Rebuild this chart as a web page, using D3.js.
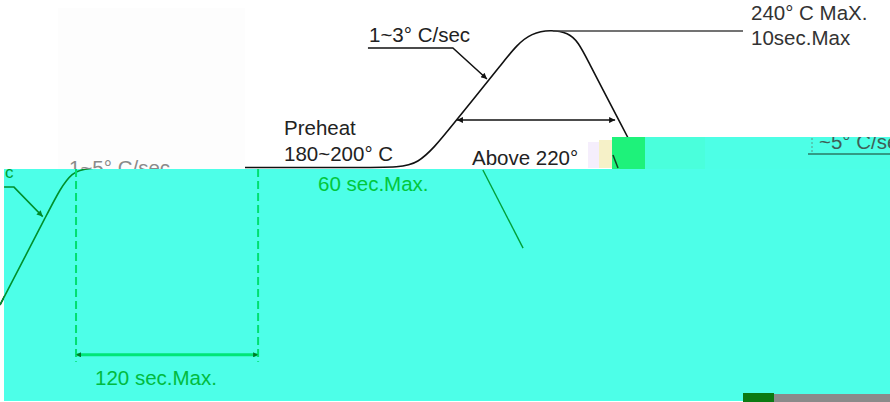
<!DOCTYPE html>
<html>
<head>
<meta charset="utf-8">
<script src="https://cdn.jsdelivr.net/npm/d3@7"></script>
<style>
  body { margin: 0; background: #fff; }
  svg text { font-family: "Liberation Sans", Arial, sans-serif; }
</style>
</head>
<body>
<div id="chart"></div>
<script>
// reflow profile, schematic: time (s) vs temperature (deg C)
const profileTime = [0, 19.4, 27.9, 39.3, 151.4, 164.4, 177.0, 198.6, 208.0, 225.0, 230.0, 247.0];
const profileTemp = [140.2, 174.6, 190, 190, 190, 190, 204.3, 229, 240, 240, 230.8, 200.7];

const preheatTemp = 190;
const peakTemp = 239.5;
const reflowArrowTemp = 207.2;
const reflowArrowTime = [179.7, 241.9];
const soakTime = [29.9, 101.5];      // "120 sec.Max." dashed markers
const soakArrowTemp = 122.1;
const soakDashTemp = [189.5, 119.6];

const labels = {
  ramp2: "1~3° C/sec",
  peak1: "240° C MaX.",
  peak2: "10sec.Max",
  preheat1: "Preheat",
  preheat2: "180~200° C",
  above: "Above 220°",
  sixty: "60 sec.Max.",
  soak: "120 sec.Max.",
  ramp1: "1~5° C/sec",
  cool: "~5° C/sec"
};

const width = 890;
const height = 402;
const fs = 20.5;

const svg = d3.select("#chart")
  .append("svg")
  .attr("width", width)
  .attr("height", height);

const x = d3.scaleLinear().domain([0, 350]).range([0, width]);
const y = d3.scaleLinear().domain([105, 250]).range([402, 2]);

const defs = svg.append("defs");
const marker = (id, color, w, h) => defs.append("marker")
  .attr("id", id)
  .attr("viewBox", "0 0 10 10")
  .attr("refX", 10).attr("refY", 5)
  .attr("markerUnits", "userSpaceOnUse")
  .attr("markerWidth", w).attr("markerHeight", h)
  .attr("orient", "auto-start-reverse")
  .append("path").attr("d", "M0,0L10,5L0,10z").attr("fill", color);
marker("arrBlack", "#111", 13, 6);
marker("arrGreen", "#007a28", 12, 5);
marker("arrGreenLead", "#008a2a", 10, 6);

defs.append("clipPath").attr("id", "leftClip")
  .append("rect").attr("x", 0).attr("y", 169).attr("width", 100).attr("height", 240);
defs.append("clipPath").attr("id", "stripClip")
  .append("rect").attr("x", 612).attr("y", 137).attr("width", 278).attr("height", 32);

const profile = profileTime.map((t, i) => [t, profileTemp[i]]);
const line = d3.line().x(d => x(d[0])).y(d => y(d[1])).curve(d3.curveBasis);
const straight = d3.line().x(d => x(d[0])).y(d => y(d[1]));

// profile curve
svg.append("path")
  .attr("d", line(profile))
  .attr("fill", "none")
  .attr("stroke", "#111")
  .attr("stroke-width", 1.6);

// faint scanned panel on the left
svg.append("rect")
  .attr("x", 58).attr("y", 8).attr("width", 187).attr("height", 161)
  .attr("fill", "#fdfdfd");

// 1~3 leader
svg.append("path")
  .attr("d", straight([[144.7, 233.3], [178.1, 233.3], [191.5, 222.1]]))
  .attr("fill", "none").attr("stroke", "#111").attr("stroke-width", 1.5)
  .attr("marker-end", "url(#arrBlack)");

// peak leader
svg.append("path")
  .attr("d", straight([[217.5, peakTemp], [292.2, peakTemp]]))
  .attr("stroke", "#444").attr("stroke-width", 1.5);

// above-220 span arrow
svg.append("path")
  .attr("d", straight(reflowArrowTime.map(t => [t, reflowArrowTemp])))
  .attr("stroke", "#111").attr("stroke-width", 1.5)
  .attr("marker-start", "url(#arrBlack)")
  .attr("marker-end", "url(#arrBlack)");

const txt = (s, px, py, color, size) => svg.append("text")
  .attr("x", px).attr("y", py)
  .attr("fill", color)
  .attr("font-size", size || fs)
  .text(s);

txt(labels.ramp2, 369, 42, "#222");
txt(labels.peak1, 751, 20, "#333");
txt(labels.peak2, 751, 45, "#333");
txt(labels.preheat1, 284, 135, "#222");
txt(labels.preheat2, 284, 161, "#222");
txt(labels.above, 472, 165, "#222");
txt(labels.ramp1, 69, 175, "#8a8a8a");

// scan noise next to "220°"
svg.append("rect").attr("x", 588).attr("y", 142).attr("width", 11).attr("height", 26).attr("fill", "#f5eefc");
svg.append("rect").attr("x", 599).attr("y", 140).attr("width", 13).attr("height", 28).attr("fill", "#f6f1c8");

// cyan overlay
svg.append("rect")
  .attr("x", 4).attr("y", 169).attr("width", width - 4).attr("height", 232)
  .attr("fill", "#4dffe8");
svg.append("rect")
  .attr("x", 612).attr("y", 137).attr("width", 278).attr("height", 32)
  .attr("fill", "#4dffe6");
svg.append("rect")
  .attr("x", 645).attr("y", 137).attr("width", 60).attr("height", 32)
  .attr("fill", "#4affdc");
svg.append("rect")
  .attr("x", 612).attr("y", 137).attr("width", 33).attr("height", 32)
  .attr("fill", "#1ef27a");
svg.append("path")
  .attr("d", "M613,155L618,168")
  .attr("stroke", "#114422").attr("stroke-width", 1.5);

// cooling label peeking through the strip
const strip = svg.append("g").attr("clip-path", "url(#stripClip)");
strip.append("text")
  .attr("x", 819).attr("y", 149)
  .attr("fill", "#3f5f58").attr("font-size", fs)
  .text(labels.cool);
strip.append("line")
  .attr("x1", 808).attr("x2", 890).attr("y1", 154).attr("y2", 154)
  .attr("stroke", "#2a7a64").attr("stroke-width", 1.5);
strip.append("line")
  .attr("x1", 812).attr("x2", 812).attr("y1", 138).attr("y2", 153)
  .attr("stroke", "#5a9a88").attr("stroke-width", 1).attr("stroke-dasharray", "2,2");

// green copy of the ramp inside the overlay
svg.append("path")
  .attr("clip-path", "url(#leftClip)")
  .attr("d", line(profile))
  .attr("fill", "none")
  .attr("stroke", "#00902c")
  .attr("stroke-width", 1.6);

// left leader
svg.append("path")
  .attr("d", straight([[1.6, 182.9], [5.5, 182.9], [16.8, 172.2]]))
  .attr("fill", "none").attr("stroke", "#00902c").attr("stroke-width", 1.5)
  .attr("marker-end", "url(#arrGreenLead)");
txt("c", 5, 178, "#00a030", 17);

// soak dashed markers
svg.selectAll(".soak")
  .data(soakTime)
  .join("line")
  .attr("class", "soak")
  .attr("x1", d => x(d)).attr("x2", d => x(d))
  .attr("y1", y(soakDashTemp[0])).attr("y2", y(soakDashTemp[1]))
  .attr("stroke", "#00e070").attr("stroke-width", 2)
  .attr("stroke-dasharray", "8,4");

svg.append("path")
  .attr("d", straight(soakTime.map(t => [t, soakArrowTemp])))
  .attr("stroke", "#00e676").attr("stroke-width", 3)
  .attr("marker-start", "url(#arrGreen)")
  .attr("marker-end", "url(#arrGreen)");

// green leader in the middle
svg.append("path")
  .attr("d", straight([[189.9, 189.1], [205.7, 160.8]]))
  .attr("stroke", "#00a038").attr("stroke-width", 1.4);

txt(labels.sixty, 318, 191, "#00c83c");
txt(labels.soak, 95, 385, "#00bb40");

// bottom right scrap
svg.append("rect").attr("x", 743).attr("y", 394).attr("width", 147).attr("height", 8).attr("fill", "#8a8a8a");
svg.append("rect").attr("x", 743).attr("y", 393).attr("width", 31).attr("height", 9).attr("fill", "#0b7a12");
</script>
</body>
</html>
